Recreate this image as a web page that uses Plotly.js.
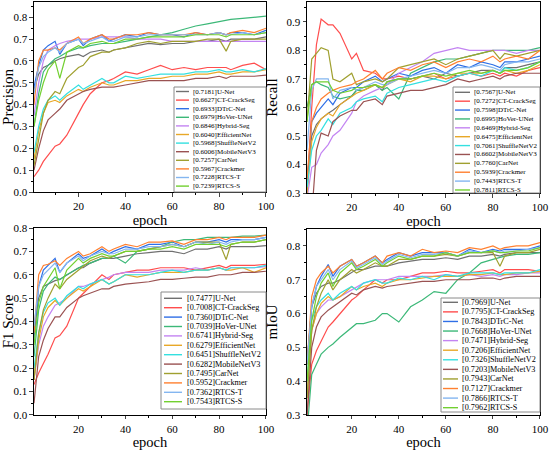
<!DOCTYPE html>
<html>
<head>
<meta charset="utf-8">
<script src="https://cdn.plot.ly/plotly-3.0.1.min.js"></script>
<style>html,body{margin:0;padding:0;background:#fff;}#chart{width:550px;height:450px;}</style>
</head>
<body>
<div id="chart"></div>
<script>
// ---------------- data ----------------
const models = ['U-Net','CT-CrackSeg','DTrC-Net','HoVer-UNet','Hybrid-Seg','EfficientNet','ShuffleNetV2','MobileNetV3','CarNet','Crackmer','RTCS-T','RTCS-S'];
const colors = ['#707070','#ff4d4d','#2f6fe6','#3cb878','#c384f2','#e8a828','#34e0e0','#9a5252','#a0a030','#ff8030','#84b6f0','#72d030'];
const epochs = [1,3,5,7,10,12,15,20,22,25,30,33,35,40,45,50,55,60,65,70,75,80,83,85,90,95,100];

const precisionScores = ['0.7181','0.6627','0.6933','0.6979','0.6846','0.6040','0.5968','0.6006','0.7257','0.5967','0.7228','0.7239'];
const recallScores    = ['0.7567','0.7272','0.7598','0.6995','0.6469','0.6475','0.7061','0.6602','0.7760','0.5939','0.7443','0.7811'];
const f1Scores        = ['0.7477','0.7008','0.7360','0.7039','0.6741','0.6279','0.6451','0.6282','0.7495','0.5952','0.7362','0.7543'];
const miouScores      = ['0.7969','0.7795','0.7843','0.7668','0.7471','0.7206','0.7326','0.7203','0.7943','0.7127','0.7866','0.7962'];

// Precision
const P_UNet   = [.47,.54,.57,.58,.60,.61,.62,.63,.62,.64,.65,.64,.65,.66,.67,.68,.675,.68,.68,.69,.69,.70,.69,.70,.70,.70,.71];
const P_CT     = [.07,.10,.14,.17,.21,.22,.26,.36,.40,.45,.50,.51,.52,.55,.54,.56,.58,.56,.57,.56,.57,.57,.57,.56,.58,.59,.56];
const P_DTrC   = [.48,.58,.65,.67,.69,.63,.68,.70,.67,.70,.72,.69,.70,.72,.71,.73,.72,.72,.71,.73,.72,.73,.72,.73,.73,.72,.74];
const P_HoVer  = [.30,.45,.55,.58,.61,.62,.64,.66,.66,.67,.68,.68,.68,.69,.70,.71,.72,.73,.745,.76,.77,.78,.785,.79,.795,.80,.805];
const P_Hybrid = [.35,.50,.60,.65,.67,.68,.69,.70,.70,.70,.71,.71,.71,.71,.70,.70,.70,.69,.69,.69,.69,.69,.69,.69,.69,.69,.69];
const P_Eff    = [.15,.28,.36,.41,.42,.41,.44,.47,.46,.48,.50,.49,.49,.51,.51,.52,.52,.53,.53,.54,.54,.55,.54,.54,.55,.55,.56];
const P_Shuf   = [.18,.30,.38,.42,.44,.42,.45,.49,.47,.49,.52,.50,.50,.53,.52,.53,.54,.54,.54,.55,.55,.56,.55,.55,.56,.55,.565];
const P_Mob    = [.10,.20,.28,.33,.36,.38,.42,.45,.46,.47,.48,.48,.48,.49,.50,.51,.51,.51,.51,.52,.52,.53,.52,.53,.53,.53,.535];
const P_Car    = [.12,.25,.36,.42,.46,.45,.52,.57,.58,.62,.64,.64,.65,.66,.68,.69,.68,.69,.69,.69,.70,.70,.645,.69,.70,.70,.70];
const P_Crk    = [.40,.60,.65,.65,.66,.65,.68,.71,.68,.70,.72,.70,.70,.72,.72,.73,.72,.72,.72,.73,.72,.73,.72,.73,.74,.73,.75];
const P_RT     = [.45,.57,.62,.64,.66,.64,.68,.70,.68,.69,.71,.69,.69,.71,.71,.72,.72,.72,.72,.72,.72,.73,.72,.72,.73,.72,.73];
const P_RS     = [.30,.42,.50,.56,.60,.52,.64,.67,.66,.68,.69,.68,.68,.70,.70,.71,.71,.71,.71,.72,.72,.72,.71,.72,.72,.72,.73];

// Recall
const R_UNet   = [.35,.50,.54,.56,.58,.59,.61,.64,.66,.67,.68,.66,.69,.70,.70,.71,.70,.72,.71,.72,.73,.73,.72,.74,.74,.75,.76];
const R_CT     = [.30,.60,.82,.91,.89,.89,.86,.77,.79,.73,.72,.70,.70,.71,.70,.71,.72,.70,.71,.72,.71,.72,.71,.72,.71,.73,.74];
const R_DTrC   = [.30,.55,.58,.60,.63,.61,.65,.67,.67,.69,.71,.69,.70,.72,.71,.73,.74,.72,.75,.74,.76,.75,.74,.76,.76,.77,.78];
const R_HoVer  = [.60,.68,.69,.68,.67,.64,.63,.64,.66,.66,.68,.66,.67,.63,.72,.74,.76,.77,.77,.78,.79,.80,.80,.80,.80,.80,.81];
const R_Hybrid = [.28,.39,.40,.44,.47,.50,.52,.58,.62,.64,.66,.67,.68,.72,.74,.76,.79,.80,.81,.80,.80,.80,.80,.80,.79,.80,.80];
const R_Eff    = [.30,.48,.53,.56,.58,.57,.61,.64,.65,.66,.68,.67,.68,.70,.69,.71,.71,.70,.72,.72,.72,.73,.72,.73,.72,.73,.75];
const R_Shuf   = [.32,.45,.50,.52,.56,.54,.58,.60,.62,.63,.64,.62,.65,.67,.68,.69,.70,.69,.71,.72,.71,.73,.72,.74,.73,.74,.76];
const R_Mob    = [.15,.22,.45,.51,.50,.55,.57,.59,.59,.62,.63,.61,.64,.65,.66,.66,.67,.68,.70,.69,.70,.71,.70,.71,.72,.72,.72];
const R_Car    = [.55,.77,.79,.81,.80,.70,.69,.72,.68,.69,.70,.69,.70,.74,.75,.76,.77,.75,.77,.78,.79,.80,.77,.79,.78,.79,.80];
const R_Crk    = [.35,.55,.60,.63,.65,.66,.67,.68,.69,.70,.73,.70,.72,.74,.73,.75,.76,.74,.76,.77,.76,.78,.76,.77,.78,.77,.80];
const R_RT     = [.45,.66,.70,.70,.70,.63,.66,.67,.66,.67,.69,.68,.68,.70,.71,.72,.73,.72,.74,.74,.75,.74,.73,.75,.76,.76,.77];
const R_RS     = [.55,.68,.69,.69,.69,.66,.65,.66,.67,.67,.68,.67,.69,.70,.70,.71,.72,.71,.72,.73,.72,.73,.72,.73,.73,.74,.76];

// F1 Score
const F_UNet   = [.35,.50,.55,.56,.575,.58,.60,.63,.63,.65,.67,.67,.67,.68,.69,.695,.70,.70,.69,.71,.71,.72,.71,.72,.72,.72,.725];
const F_CT     = [.13,.18,.22,.26,.33,.34,.38,.50,.52,.55,.60,.58,.60,.61,.62,.62,.63,.63,.63,.62,.63,.64,.63,.64,.64,.64,.645];
const F_DTrC   = [.33,.55,.62,.64,.67,.61,.65,.69,.67,.68,.71,.69,.70,.72,.71,.73,.73,.74,.72,.74,.74,.75,.74,.75,.75,.75,.76];
const F_HoVer  = [.25,.45,.53,.56,.59,.58,.60,.63,.64,.65,.67,.67,.68,.65,.70,.71,.72,.74,.75,.75,.76,.76,.76,.76,.765,.765,.77];
const F_Hybrid = [.15,.30,.38,.42,.47,.48,.50,.55,.55,.56,.58,.59,.60,.61,.61,.61,.62,.62,.62,.63,.62,.63,.62,.63,.63,.63,.635];
const F_Eff    = [.15,.32,.42,.46,.49,.47,.50,.54,.53,.55,.58,.56,.57,.60,.59,.60,.61,.61,.61,.62,.62,.63,.62,.62,.63,.61,.63];
const F_Shuf   = [.20,.35,.44,.48,.50,.47,.51,.55,.54,.56,.58,.56,.57,.60,.60,.60,.61,.62,.61,.62,.62,.63,.62,.63,.63,.63,.64];
const F_Mob    = [.05,.25,.32,.37,.42,.42,.46,.50,.51,.52,.54,.54,.55,.56,.565,.57,.58,.58,.585,.59,.59,.60,.60,.60,.61,.61,.615];
const F_Car    = [.15,.35,.45,.50,.56,.54,.58,.62,.64,.66,.68,.67,.68,.70,.70,.71,.72,.73,.72,.74,.74,.74,.665,.73,.74,.74,.75];
const F_Crk    = [.35,.60,.64,.645,.66,.64,.67,.70,.68,.69,.72,.70,.71,.73,.72,.74,.74,.745,.73,.75,.75,.76,.75,.76,.76,.76,.77];
const F_RT     = [.38,.55,.60,.62,.65,.61,.65,.68,.66,.68,.70,.69,.69,.71,.71,.72,.72,.73,.72,.74,.73,.74,.73,.74,.75,.75,.76];
const F_RS     = [.30,.48,.55,.58,.63,.54,.62,.67,.65,.67,.69,.68,.68,.70,.70,.71,.71,.72,.71,.73,.73,.73,.72,.73,.74,.74,.75];

// mIoU
const M_UNet   = [.45,.62,.66,.68,.69,.69,.70,.72,.73,.73,.74,.74,.74,.75,.755,.76,.76,.765,.76,.77,.77,.775,.77,.775,.78,.78,.78];
const M_CT     = [.30,.45,.49,.52,.56,.575,.60,.64,.65,.67,.70,.69,.70,.70,.71,.72,.72,.725,.72,.72,.725,.73,.72,.73,.73,.73,.725];
const M_DTrC   = [.45,.62,.68,.71,.745,.71,.74,.76,.74,.75,.77,.75,.76,.78,.77,.78,.78,.78,.77,.79,.78,.79,.785,.79,.79,.79,.80];
const M_HoVer  = [.25,.42,.45,.48,.50,.51,.53,.56,.57,.57,.58,.60,.60,.575,.62,.64,.665,.66,.70,.72,.75,.76,.765,.77,.775,.775,.78];
const M_Hybrid = [.35,.55,.60,.62,.64,.64,.65,.67,.68,.69,.70,.70,.70,.71,.71,.71,.71,.715,.71,.715,.71,.715,.71,.715,.715,.72,.72];
const M_Eff    = [.35,.55,.60,.63,.65,.64,.65,.68,.67,.68,.69,.68,.69,.70,.70,.705,.71,.71,.71,.715,.715,.72,.715,.715,.72,.72,.725];
const M_Shuf   = [.40,.58,.62,.64,.66,.64,.66,.68,.67,.69,.70,.69,.69,.705,.70,.71,.70,.715,.71,.72,.72,.72,.715,.72,.72,.72,.73];
const M_Mob    = [.30,.50,.56,.59,.61,.62,.635,.66,.655,.67,.68,.675,.68,.685,.69,.695,.695,.70,.70,.70,.705,.705,.70,.705,.71,.71,.71];
const M_Car    = [.35,.55,.62,.66,.70,.67,.70,.73,.72,.73,.75,.74,.74,.76,.76,.77,.77,.775,.77,.78,.78,.78,.74,.77,.78,.78,.79];
const M_Crk    = [.45,.65,.70,.72,.74,.72,.74,.76,.74,.75,.77,.75,.77,.78,.77,.79,.78,.785,.78,.795,.79,.80,.79,.795,.80,.80,.81];
const M_RT     = [.45,.62,.68,.70,.73,.70,.73,.755,.735,.745,.765,.745,.755,.775,.765,.775,.775,.78,.77,.785,.78,.785,.78,.785,.785,.79,.795];
const M_RS     = [.40,.58,.65,.69,.72,.68,.72,.75,.73,.74,.76,.74,.75,.77,.76,.77,.77,.78,.77,.78,.78,.785,.78,.78,.785,.785,.795];

const precisionData = [P_UNet,P_CT,P_DTrC,P_HoVer,P_Hybrid,P_Eff,P_Shuf,P_Mob,P_Car,P_Crk,P_RT,P_RS];
const recallData    = [R_UNet,R_CT,R_DTrC,R_HoVer,R_Hybrid,R_Eff,R_Shuf,R_Mob,R_Car,R_Crk,R_RT,R_RS];
const f1Data        = [F_UNet,F_CT,F_DTrC,F_HoVer,F_Hybrid,F_Eff,F_Shuf,F_Mob,F_Car,F_Crk,F_RT,F_RS];
const miouData      = [M_UNet,M_CT,M_DTrC,M_HoVer,M_Hybrid,M_Eff,M_Shuf,M_Mob,M_Car,M_Crk,M_RT,M_RS];

// ---------------- build ----------------
const W = 550, H = 450;
const FONT = 'Liberation Serif, Times New Roman, serif';
const px = v => v / W;
const py = v => 1 - v / H;

// legend boxes (pixel geometry): box, line start/end, text x, first row y, row step, font size
const panels = [
  {data: precisionData, scores: precisionScores, ax: 1, title: 'Precision', range: [0, 0.87],
   xd: [0.0618, 0.4836], yd: [0.5733, 0.9956],
   lg: {box: [174, 87, 266, 192], l0: 176, l1: 189, tx: 191, y0: 91.5, dy: 8.6, fs: 7}},
  {data: recallData, scores: recallScores, ax: 2, title: 'Recall', range: [0.3, 0.97],
   xd: [0.5582, 0.9818], yd: [0.5711, 0.9956],
   lg: {box: [453, 87, 540, 193], l0: 455, l1: 470, tx: 472, y0: 92.3, dy: 8.88, fs: 7}},
  {data: f1Data, scores: f1Scores, ax: 3, title: 'F1 Score', range: [0, 0.8],
   xd: [0.0618, 0.4836], yd: [0.0778, 0.4933],
   lg: {box: [161, 292, 266, 409], l0: 164, l1: 182, tx: 185, y0: 298.3, dy: 9.4, fs: 8.2}},
  {data: miouData, scores: miouScores, ax: 4, title: 'mIoU', range: [0.3, 0.85],
   xd: [0.5582, 0.9818], yd: [0.0778, 0.4911],
   lg: {box: [441, 298, 540, 412], l0: 443, l1: 458, tx: 460, y0: 302.3, dy: 9.58, fs: 8.2}}
];

function axName(n) { return n === 1 ? '' : String(n); }

const traces = [];
const shapes = [];
const annotations = [];
const layout = {
  width: W, height: H,
  margin: {l: 0, r: 0, t: 0, b: 0},
  paper_bgcolor: '#fff', plot_bgcolor: '#fff',
  showlegend: false
};

panels.forEach(p => {
  const a = axName(p.ax);
  models.forEach((m, i) => {
    traces.push({
      type: 'scatter', mode: 'lines',
      x: epochs, y: p.data[i],
      name: '[' + p.scores[i] + ']' + m,
      line: {color: colors[i], width: 1.2},
      xaxis: 'x' + a, yaxis: 'y' + a,
      showlegend: false, hoverinfo: 'skip'
    });
  });

  // main axes: outward ticks at bottom / left
  layout['xaxis' + a] = {
    domain: p.xd, anchor: 'y' + a, range: [1, 100], tick0: 0, dtick: 20,
    ticks: 'outside', ticklen: 3.5, mirror: true, showline: true, linecolor: '#000', linewidth: 1,
    showgrid: false, zeroline: false,
    minor: {dtick: 10, ticks: 'outside', ticklen: 2, tickcolor: '#000'},
    tickfont: {family: FONT, size: 11, color: '#000'},
    title: {text: 'epoch', font: {family: FONT, size: 14.5, color: '#000'}, standoff: 3}
  };
  layout['yaxis' + a] = {
    domain: p.yd, anchor: 'x' + a, range: p.range, dtick: 0.1, tick0: 0, tickformat: '.1f',
    ticks: 'outside', ticklen: 3.5, mirror: true, showline: true, linecolor: '#000', linewidth: 1,
    showgrid: false, zeroline: false,
    minor: {dtick: 0.05, ticks: 'outside', ticklen: 2, tickcolor: '#000'},
    tickfont: {family: FONT, size: 11, color: '#000'},
    title: {text: p.title, font: {family: FONT, size: 15, color: '#000'}, standoff: 5}
  };
  // mirrored axes: inward ticks at top / right
  const tx = String(p.ax + 4), ty = String(p.ax + 4);
  layout['xaxis' + tx] = {
    overlaying: 'x' + a, anchor: 'y' + a, side: 'top', range: [1, 100], tick0: 0, dtick: 20,
    ticks: 'inside', ticklen: 3.5, showticklabels: false, showline: false, showgrid: false, zeroline: false,
    minor: {dtick: 10, ticks: 'inside', ticklen: 2, tickcolor: '#000'}
  };
  layout['yaxis' + ty] = {
    overlaying: 'y' + a, anchor: 'x' + a, side: 'right', range: p.range, dtick: 0.1, tick0: 0,
    ticks: 'inside', ticklen: 3.5, showticklabels: false, showline: false, showgrid: false, zeroline: false,
    minor: {dtick: 0.05, ticks: 'inside', ticklen: 2, tickcolor: '#000'}
  };

  // legend box drawn from the model / colour arrays
  const g = p.lg;
  shapes.push({type: 'rect', xref: 'paper', yref: 'paper',
    x0: px(g.box[0]), x1: px(g.box[2]), y0: py(g.box[3]), y1: py(g.box[1]),
    line: {color: '#8a8a8a', width: 1}, fillcolor: '#ffffff', layer: 'above'});
  models.forEach((m, i) => {
    const yy = g.y0 + i * g.dy;
    shapes.push({type: 'line', xref: 'paper', yref: 'paper',
      x0: px(g.l0), x1: px(g.l1), y0: py(yy), y1: py(yy),
      line: {color: colors[i], width: 1.4}, layer: 'above'});
    annotations.push({xref: 'paper', yref: 'paper', x: px(g.tx), y: py(yy),
      xanchor: 'left', yanchor: 'middle', showarrow: false,
      text: '[' + p.scores[i] + ']' + m,
      font: {family: FONT, size: g.fs, color: '#000'}});
  });
});

layout.shapes = shapes;
layout.annotations = annotations;

Plotly.newPlot('chart', traces, layout, {staticPlot: true, displayModeBar: false});
</script>
</body>
</html>
